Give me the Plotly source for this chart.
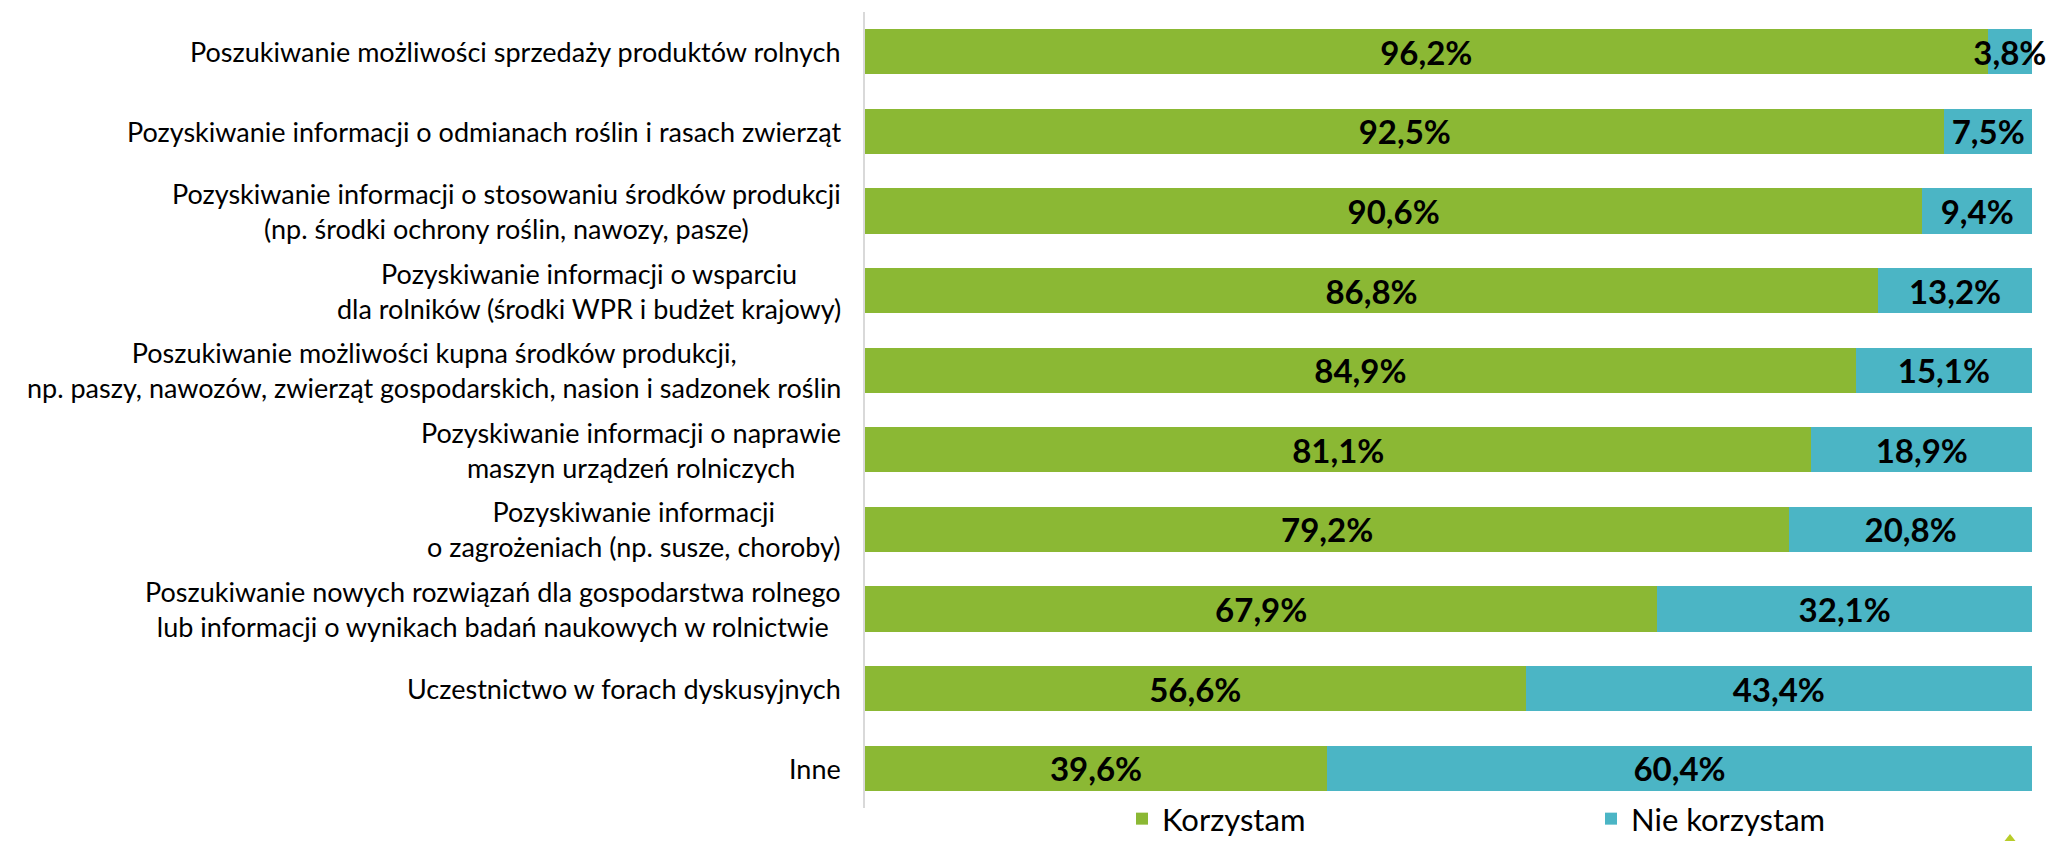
import plotly.graph_objects as go

categories = [
    "Poszukiwanie możliwości sprzedaży produktów rolnych",
    "Pozyskiwanie informacji o odmianach roślin i rasach zwierząt",
    "Pozyskiwanie informacji o stosowaniu środków produkcji<br>(np. środki ochrony roślin, nawozy, pasze)",
    "Pozyskiwanie informacji o wsparciu<br>dla rolników (środki WPR i budżet krajowy)",
    "Poszukiwanie możliwości kupna środków produkcji,<br>np. paszy, nawozów, zwierząt gospodarskich, nasion i sadzonek roślin",
    "Pozyskiwanie informacji o naprawie<br>maszyn urządzeń rolniczych",
    "Pozyskiwanie informacji<br>o zagrożeniach (np. susze, choroby)",
    "Poszukiwanie nowych rozwiązań dla gospodarstwa rolnego<br>lub informacji o wynikach badań naukowych w rolnictwie",
    "Uczestnictwo w forach dyskusyjnych",
    "Inne",
]
korzystam = [96.2, 92.5, 90.6, 86.8, 84.9, 81.1, 79.2, 67.9, 56.6, 39.6]
nie_korzystam = [3.8, 7.5, 9.4, 13.2, 15.1, 18.9, 20.8, 32.1, 43.4, 60.4]
series_names = ["Korzystam", "Nie korzystam"]

GREEN = "#8BB834"
BLUE = "#4BB5C5"
FONT = "Lato, 'Open Sans', sans-serif"

W, H = 2052, 841
ML, MR, MT, MB = 865, 20, 12, 33
PW, PH = W - ML - MR, H - MT - MB

def fmt(v):
    return f"{v:.1f}%".replace(".", ",")

fig = go.Figure()
for name, vals, col in [(series_names[0], korzystam, GREEN), (series_names[1], nie_korzystam, BLUE)]:
    fig.add_trace(go.Bar(
        y=categories, x=vals, name=name, orientation="h",
        marker=dict(color=col, line=dict(width=0)),
        text=[fmt(v) for v in vals],
        textposition="inside", insidetextanchor="middle", textangle=0,
        textfont=dict(family=FONT, size=33, color="#000000", weight="bold"),
        cliponaxis=False,
        hoverinfo="skip",
    ))

annotations = []
for c in categories:
    annotations.append(dict(
        xref="paper", yref="y", x=0, y=c, xshift=-22,
        xanchor="right", yanchor="middle", align="center",
        text=c, showarrow=False,
        font=dict(family=FONT, size=27, color="#000000"),
    ))

fig.update_layout(
    width=W, height=H,
    margin=dict(l=ML, r=MR, t=MT, b=MB, pad=0, autoexpand=False),
    paper_bgcolor="white", plot_bgcolor="white",
    barmode="stack", bargap=0.43,
    uniformtext=dict(minsize=33, mode="show"),
    xaxis=dict(range=[0, 100], visible=False, fixedrange=True),
    yaxis=dict(
        autorange="reversed", showticklabels=False, showgrid=False,
        showline=True, linecolor="#D9D9D9", linewidth=2, ticks="",
        zeroline=False, fixedrange=True,
    ),
    showlegend=True,
    legend=dict(
        orientation="h", x=(1122 - ML) / PW, xanchor="left",
        y=-11 / PH, yanchor="middle",
        font=dict(family=FONT, size=31, color="#000000"),
        entrywidth=424, entrywidthmode="pixels",
        bgcolor="rgba(0,0,0,0)", traceorder="normal",
    ),
    annotations=annotations,
    shapes=[dict(
        type="path", xref="paper", yref="paper",
        path=f"M {(2010 - ML) / PW},{(808 - 834) / PH} "
             f"L {(2021 - ML) / PW},{(808 - 848) / PH} "
             f"L {(1999 - ML) / PW},{(808 - 848) / PH} Z",
        fillcolor="#B8CC2A", line=dict(width=0),
    )],
)

fig.write_html(
    "out.html",
    config={"displayModeBar": False},
    post_script="document.body.style.margin='0';document.body.style.overflow='hidden';",
)
